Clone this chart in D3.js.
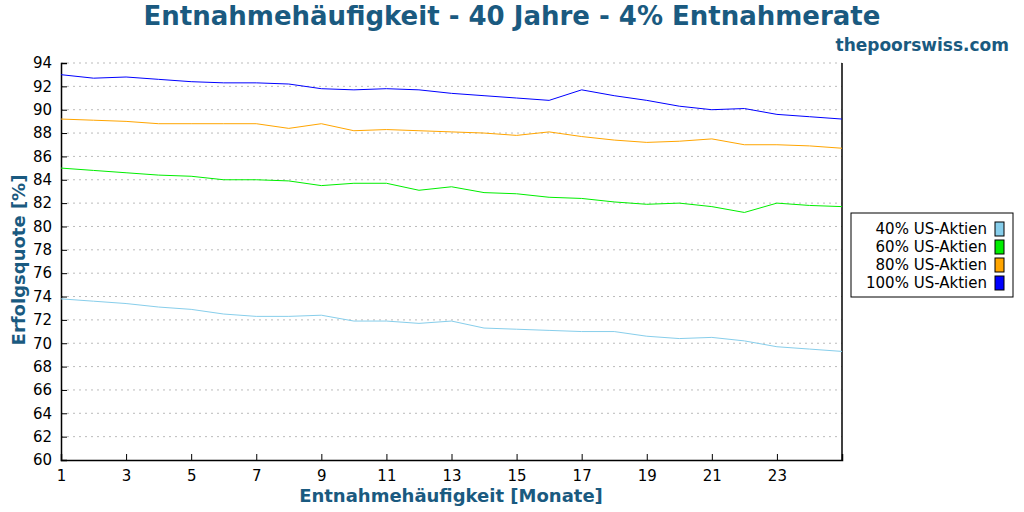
<!DOCTYPE html>
<html><head><meta charset="utf-8">
<script src="https://cdn.jsdelivr.net/npm/d3@7"></script>
<style>body{margin:0;background:#fff}text{font-family:"DejaVu Sans",sans-serif}</style>
</head><body><svg id="chart" width="1024" height="512"></svg>
<script>
const months = d3.range(1, 26);
const series = ["40% US-Aktien", "60% US-Aktien", "80% US-Aktien", "100% US-Aktien"];
const colors = ["#87ceeb", "#00ee00", "#ffa500", "#0000ff"];
const us40 = [73.8,73.6,73.4,73.1,72.9,72.5,72.3,72.3,72.4,71.9,71.9,71.7,71.9,71.3,71.2,71.1,71.0,71.0,70.6,70.4,70.5,70.2,69.7,69.5,69.3];
const us60 = [85.0,84.8,84.6,84.4,84.3,84.0,84.0,83.9,83.5,83.7,83.7,83.1,83.4,82.9,82.8,82.5,82.4,82.1,81.9,82.0,81.7,81.2,82.0,81.8,81.7];
const us80 = [89.2,89.1,89.0,88.8,88.8,88.8,88.8,88.4,88.8,88.2,88.3,88.2,88.1,88.0,87.8,88.1,87.7,87.4,87.2,87.3,87.5,87.0,87.0,86.9,86.7];
const us100 = [93.0,92.7,92.8,92.6,92.4,92.3,92.3,92.2,91.8,91.7,91.8,91.7,91.4,91.2,91.0,90.8,91.7,91.2,90.8,90.3,90.0,90.1,89.6,89.4,89.2];
const xTicks = d3.range(1, 24, 2);
const yTicks = d3.range(60, 95, 2);
const values = [us40, us60, us80, us100];

const svg = d3.select("#chart"),
  blue = "#1a5a80",
  plotL = 61, plotR = 842, plotT = 63, plotB = 460;

const x = d3.scaleLinear().domain([1, 25]).range([plotL, plotR]);
const y = d3.scaleLinear().domain([60, 94]).range([plotB, plotT]);

// grid
svg.append("g").selectAll("line").data(yTicks.slice(1)).join("line")
  .attr("x1", plotL).attr("x2", plotR)
  .attr("y1", d => y(d)).attr("y2", d => y(d))
  .attr("stroke", "#bbb").attr("stroke-dasharray", "2,4");

svg.append("g").attr("transform", `translate(0,${plotB})`)
  .call(d3.axisBottom(x).tickValues(xTicks).tickFormat(d3.format("d")).tickSizeOuter(0).tickSize(-6))
  .call(g => g.selectAll("text").attr("dy", "1.2em").attr("font-size", 15));
svg.append("g").attr("transform", `translate(${plotL},0)`)
  .call(d3.axisLeft(y).tickValues(yTicks).tickSizeOuter(0).tickSize(-6))
  .call(g => g.selectAll("text").attr("dx", "-0.4em").attr("font-size", 15));
svg.selectAll(".domain").attr("stroke", "#000").attr("stroke-width", 1.5);
svg.append("line").attr("x1", plotR).attr("x2", plotR).attr("y1", plotT).attr("y2", plotB).attr("stroke", "#000").attr("stroke-width", 1.5);

const line = d3.line().x((d, i) => x(months[i])).y(d => y(d));
values.forEach((v, i) => {
  svg.append("path").datum(v).attr("d", line)
    .attr("fill", "none").attr("stroke", colors[i]).attr("stroke-width", 1);
});

svg.append("text").attr("x", 512).attr("y", 25).attr("text-anchor", "middle")
  .attr("font-size", 26).attr("font-weight", "bold").attr("fill", blue)
  .text("Entnahmehäufigkeit - 40 Jahre - 4% Entnahmerate");
svg.append("text").attr("x", 1009).attr("y", 51).attr("text-anchor", "end")
  .attr("font-size", 17).attr("font-weight", "bold").attr("fill", blue)
  .text("thepoorswiss.com");
svg.append("text").attr("x", 451).attr("y", 502).attr("text-anchor", "middle")
  .attr("font-size", 18).attr("font-weight", "bold").attr("fill", blue)
  .text("Entnahmehäufigkeit [Monate]");
svg.append("text").attr("transform", "translate(25,260) rotate(-90)").attr("text-anchor", "middle")
  .attr("font-size", 18).attr("font-weight", "bold").attr("fill", blue)
  .text("Erfolgsquote [%]");

// legend
const lg = svg.append("g");
lg.append("rect").attr("x", 851).attr("y", 213).attr("width", 162).attr("height", 84)
  .attr("fill", "#fff").attr("stroke", "#000");
series.forEach((s, i) => {
  const yy = 229 + i * 18;
  lg.append("text").attr("x", 987).attr("y", yy + 5).attr("text-anchor", "end")
    .attr("font-size", 15).text(s);
  lg.append("rect").attr("x", 995).attr("y", yy - 7).attr("width", 9).attr("height", 14)
    .attr("fill", colors[i]).attr("stroke", "#000");
});
</script></body></html>
